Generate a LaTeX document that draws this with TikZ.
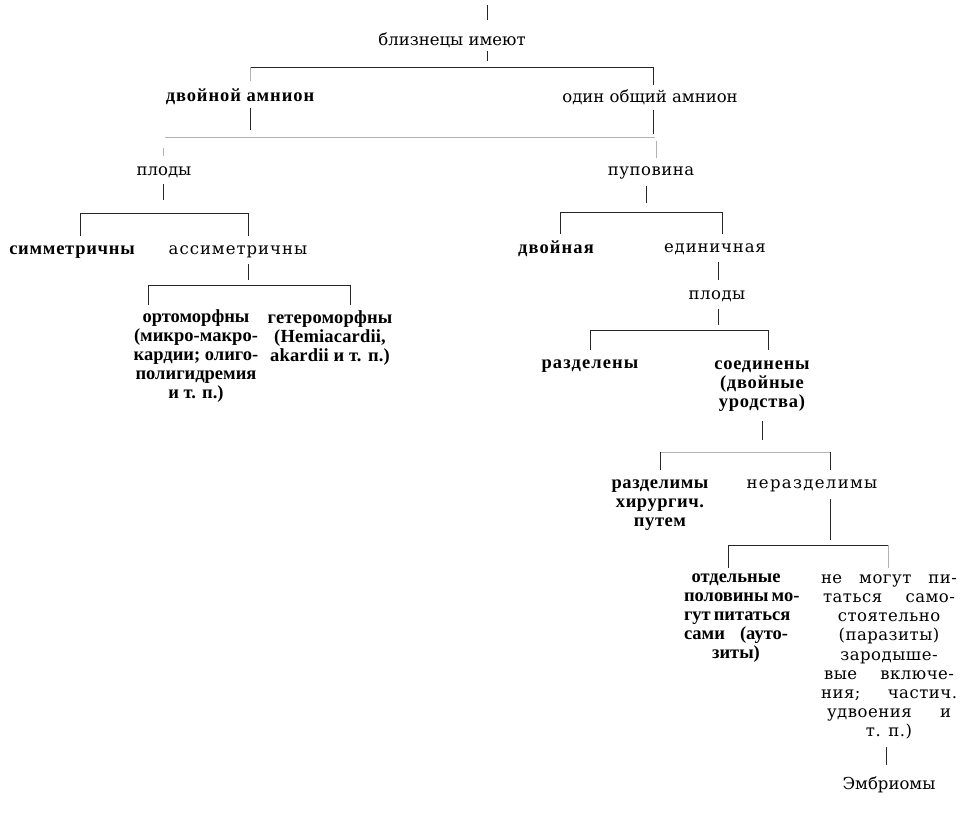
\documentclass[tikz,border=0pt]{standalone}
\usepackage{fontspec}
\setmainfont{Liberation Serif}
\newfontfamily\dvs{DejaVu Serif}
\newcommand\rsz{\dvs\fontsize{16.5}{19.2}\selectfont}
\newcommand\bsz{\fontsize{18.5}{19}\selectfont\bfseries}
\newcommand\jl[2]{\makebox[#1][s]{#2}}
\tikzset{
  ls/.style={font={\rsz\addfontfeature{LetterSpace=#1}}, align=center, inner sep=1pt},
  bls/.style={font={\bsz\addfontfeature{LetterSpace=#1}}, align=center, inner sep=1pt},
  ln/.style={line width=0.9pt, black!85},
  faint/.style={line width=0.7pt, black!30},
}
\begin{document}
\begin{tikzpicture}[x=1pt,y=-1pt]
\useasboundingbox (0,0) rectangle (972,823);
% nodes
\node[ls=0]  (n0)  at (452,40)  {близнецы имеют};
\node[bls=5] (n1)  at (240,97)  {двойной амнион};
\node[ls=0]  (n2)  at (650,97)  {один общий амнион};
\node[ls=0]  (n3)  at (164,172) {плоды};
\node[ls=3]  (n4)  at (651,173) {пуповина};
\node[bls=4] (n5)  at (72,252)  {симметричны};
\node[ls=6]  (n6)  at (238,252) {ассиметричны};
\node[bls=0] (n7)  at (196,356) {ортоморфны\\(микро-макро-\\кардии; олиго-\\полигидремия\\и т. п.)};
\node[bls=1] (n8)  at (330,338) {гетероморфны\\(Hemiacardii,\\akardii и т. п.)};
\node[bls=6] (n9)  at (556,249) {двойная};
\node[ls=5]  (n10) at (715,249) {единичная};
\node[ls=3]  (n11) at (717,296) {плоды};
\node[bls=6] (n12) at (590,366) {разделены};
\node[bls=4] (n13) at (762,386) {соединены\\(двойные\\уродства)};
\node[bls=3] (n14) at (660,505) {разделимы\\хирургич.\\путем};
\node[ls=8]  (n15) at (812,486) {неразделимы};
\node[bls=0] (n16) at (736,618) {отдельные\\\jl{104pt}{половины мо-}\\\jl{104pt}{гут питаться}\\\jl{104pt}{сами (ауто-}\\зиты)};
\node[ls=3]  (n17) at (889,657) {\jl{136pt}{не могут пи-}\\\jl{132pt}{таться само-}\\стоятельно\\(паразиты)\\зародыше-\\\jl{130pt}{вые включе-}\\\jl{136pt}{ния; частич.}\\\jl{124pt}{удвоения и}\\т. п.)};
\node[ls=0]  (n18) at (889,785) {Эмбриомы};
% junction coordinates
\coordinate (t0) at (487,5);
\coordinate (b0l) at (250,67);  \coordinate (b0r) at (653,67);
\coordinate (b1l) at (80,213);  \coordinate (b1r) at (248,213);
\coordinate (b2l) at (148,285); \coordinate (b2r) at (350,285);
\coordinate (b3l) at (560,212); \coordinate (b3r) at (722,212);
\coordinate (b4l) at (590,330); \coordinate (b4r) at (768,330);
\coordinate (b5l) at (660,452); \coordinate (b5r) at (830,452);
\coordinate (b6l) at (728,545); \coordinate (b6r) at (888,545);
\coordinate (fl) at (165,137);  \coordinate (fr) at (655,137);
% connectors: root
\draw[ln] (t0) -- (487,20);
\draw[ln] (487,51) -- (487,61);
\draw[ln] (b0l) -- (b0r);
\draw[faint] (b0l) -- (250,81);
\draw[ln] (b0r) -- (653,85);
\draw[ln] (250,108) -- (250,130);
\draw[ln] (653,110) -- (653,134);
\draw[faint] (fl) -- (fr);
% left subtree
\draw[faint] (163,148) -- (163,156);
\draw[ln] (163,184) -- (163,200);
\draw[ln] (b1l) -- (b1r);
\draw[ln] (b1l) -- (80,236);
\draw[ln] (b1r) -- (248,236);
\draw[ln] (248,264) -- (248,280);
\draw[ln] (b2l) -- (b2r);
\draw[ln] (b2l) -- (148,305);
\draw[ln] (b2r) -- (350,305);
% right subtree
\draw[faint] (656,141) -- (656,158);
\draw[ln] (646,186) -- (646,203);
\draw[ln] (b3l) -- (b3r);
\draw[ln] (b3l) -- (560,234);
\draw[ln] (b3r) -- (722,234);
\draw[ln] (718,262) -- (718,280);
\draw[ln] (718,309) -- (718,325);
\draw[ln] (b4l) -- (b4r);
\draw[ln] (b4l) -- (590,350);
\draw[ln] (b4r) -- (768,350);
\draw[ln] (762,421) -- (762,440);
\draw[faint] (b5l) -- (b5r);
\draw[ln] (b5l) -- (660,470);
\draw[ln] (b5r) -- (830,470);
\draw[ln] (830,499) -- (830,540);
\draw[ln] (b6l) -- (b6r);
\draw[ln] (b6l) -- (728,568);
\draw[faint] (b6r) -- (888,568);
\draw[ln] (886,747) -- (886,765);
\end{tikzpicture}
\end{document}
